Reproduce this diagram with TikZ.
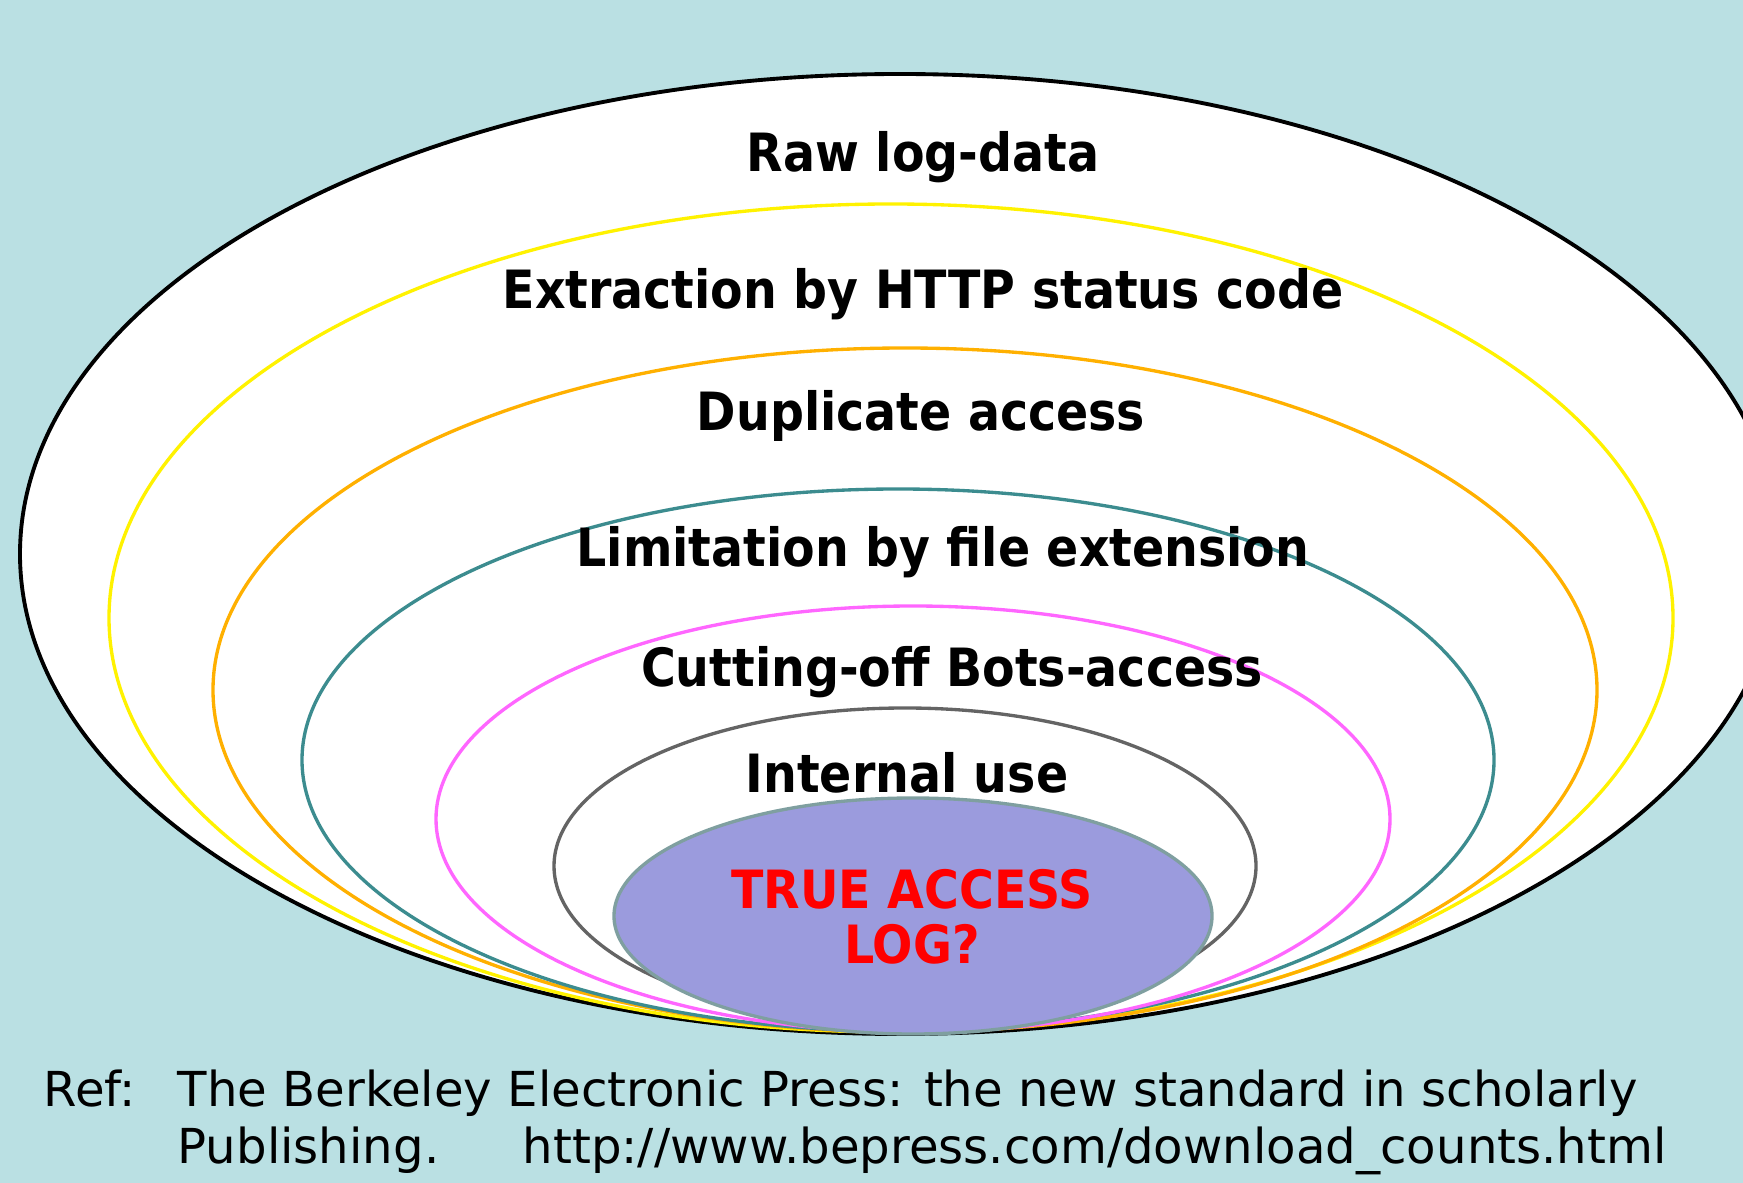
\documentclass[tikz,border=0pt]{standalone}
\usepackage{fontspec}
\setmainfont{DejaVu Sans}
\newfontfamily\condfont{DejaVu Sans Condensed}
\usepackage{tikz}
\usetikzlibrary{positioning}

\definecolor{bgblue}{RGB}{186,224,227}
\definecolor{tealring}{RGB}{60,140,143}
\definecolor{pinkring}{RGB}{255,102,255}
\definecolor{orangering}{RGB}{255,176,0}
\definecolor{grayring}{RGB}{100,100,100}
\definecolor{corefill}{RGB}{155,155,221}
\definecolor{coreline}{RGB}{127,159,160}

\begin{document}
\begin{tikzpicture}[
  x=0.01cm, y=-0.01cm,
  ring/.style={line width=0.95pt},
  layer/.style={font=\condfont\bfseries\fontsize{15}{17}\selectfont, anchor=base, inner sep=0pt},
  core/.style={font=\condfont\bfseries\fontsize{15}{15.6}\selectfont, text=red, align=center, anchor=base, inner sep=0pt},
  reftext/.style={font=\fontsize{13.7}{16}\selectfont, anchor=base west, inner sep=0pt}
]
\useasboundingbox (0,0) rectangle (1743,1183);
\clip (0,0) rectangle (1743,1183);
\fill[bgblue] (0,0) rectangle (1743,1183);

% nested filters, outermost first
\filldraw[ring, line width=1.1pt, fill=white, draw=black] (900,554) ellipse [x radius=880, y radius=480];
\draw[ring, yellow] (891,618) ellipse [x radius=782, y radius=414];
\draw[ring, orangering] (905,690) ellipse [x radius=692, y radius=342];
\draw[ring, tealring] (898,760) ellipse [x radius=596, y radius=271];
\draw[ring, pinkring] (913,819) ellipse [x radius=477, y radius=213];
\draw[ring, grayring] (905,866) ellipse [x radius=351, y radius=158];
\filldraw[ring, fill=corefill, draw=coreline] (913,916) ellipse [x radius=299, y radius=118];

% layer labels (placed on their baselines)
\node[layer] (raw) at (923,172) {Raw log-data};
\node[layer] (http) at (923,309) {Extraction by HTTP status code};
\node[layer] (dup) at (921,431) {Duplicate access};
\node[layer] (ext) at (943,567) {Limitation by file extension};
\node[layer] (bots) at (952,687) {Cutting-off Bots-access};
\node[layer] (internal) at (907,793) {Internal use};
% base of a two-line node sits on its last line
\node[core] (truelog) at (912,963) {TRUE ACCESS\\LOG?};

% reference
\node[reftext] (ref) at (43,1106) {Ref:};
\node[reftext] (refline) at (177,1106) {The Berkeley Electronic Press: the new standard in scholarly};
\node[reftext] (pub) at (177,1163) {Publishing.};
\node[reftext] (url) at (522,1163) {http://www.bepress.com/download\_counts.html};
\end{tikzpicture}
\end{document}
